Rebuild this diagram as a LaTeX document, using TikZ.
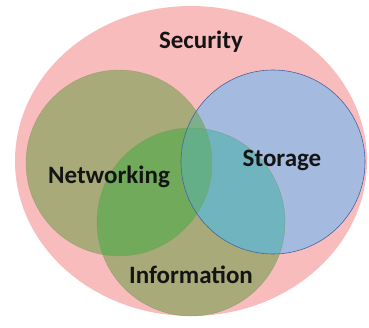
\documentclass[tikz,border=0pt]{standalone}
\usepackage{fontspec}
\setmainfont{Carlito}
\definecolor{pinkbg}{RGB}{249,188,188}
\definecolor{khaki}{RGB}{168,170,122}
\definecolor{blueS}{RGB}{164,186,223}
\definecolor{greenNI}{RGB}{112,170,90}
\definecolor{tealSI}{RGB}{112,180,192}
\definecolor{greenNS}{RGB}{125,175,140}
\definecolor{greenNSI}{RGB}{100,175,135}
\definecolor{edgeN}{RGB}{140,150,100}
\definecolor{edgeS}{RGB}{70,100,160}
\definecolor{edgeI}{RGB}{120,150,90}
\tikzset{
  lbl/.style={anchor=base, text=black!92, font=\fontsize{25}{30}\selectfont\bfseries, inner sep=0pt},
}
\begin{document}
\begin{tikzpicture}[x=1pt,y=-1pt]
\useasboundingbox (0,0) rectangle (369,327);
\coordinate (ce) at (191,161);
\coordinate (cn) at (119,163);
\coordinate (cs) at (273,162);
\coordinate (ci) at (191,222);
\def\rn{93pt}\def\rs{92pt}\def\ri{94pt}
\fill[pinkbg] (ce) ellipse [x radius=176pt, y radius=155pt];
\fill[khaki] (cn) circle[radius=\rn];
\fill[khaki] (ci) circle[radius=\ri];
\fill[blueS] (cs) circle[radius=\rs];
\begin{scope}
  \clip (cn) circle[radius=\rn];
  \fill[greenNI] (ci) circle[radius=\ri];
\end{scope}
\begin{scope}
  \clip (cs) circle[radius=\rs];
  \fill[tealSI] (ci) circle[radius=\ri];
\end{scope}
\begin{scope}
  \clip (cn) circle[radius=\rn];
  \fill[greenNS] (cs) circle[radius=\rs];
  \clip (cs) circle[radius=\rs];
  \fill[greenNSI] (ci) circle[radius=\ri];
\end{scope}
\draw[edgeN, line width=0.4pt, opacity=0.6] (cn) circle[radius=\rn];
\draw[edgeI, line width=0.4pt, opacity=0.6] (ci) circle[radius=\ri];
\draw[edgeS, line width=0.6pt] (cs) circle[radius=\rs];
\node[lbl] (security) at (201,48) {Security};
\node[lbl] (networking) at (109,183) {Networking};
\node[lbl] (storage) at (282,166) {Storage};
\node[lbl] (information) at (191,283) {Information};
\end{tikzpicture}
\end{document}
